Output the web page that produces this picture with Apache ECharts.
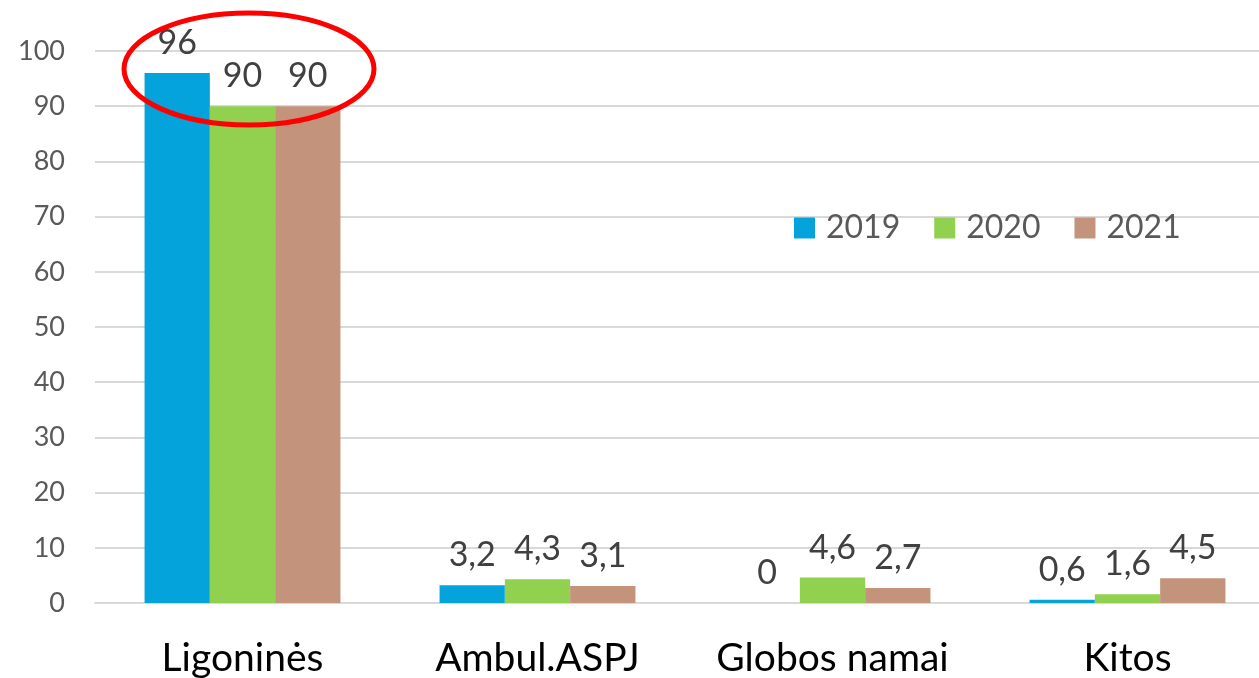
<!DOCTYPE html>
<html lang="lt">
<head>
    <meta charset="UTF-8">
    <title>Chart</title>
    <script src="https://cdn.jsdelivr.net/npm/echarts@6.0.0/dist/echarts.min.js"></script>
    <style>
        html, body { margin: 0; padding: 0; background: #fff; }
        #chart { width: 1259px; height: 678px; }
    </style>
</head>
<body>
<div id="chart"></div>
<script>
    var categories = ['Ligoninės', 'Ambul.ASPJ', 'Globos namai', 'Kitos'];
    var years = ['2019', '2020', '2021'];
    var values2019 = [96, 3.2, 0, 0.6];
    var values2020 = [90, 4.3, 4.6, 1.6];
    var values2021 = [90, 3.1, 2.7, 4.5];
    var colors = ['#05a3dc', '#92d050', '#c3937c'];

    var font = 'Lato, "Open Sans", sans-serif';

    function makeSeries(name, data, color) {
        return {
            name: name,
            type: 'bar',
            data: data,
            barGap: '0%',
            barCategoryGap: '33.6%',
            itemStyle: { color: color },
            label: {
                show: true,
                position: 'top',
                distance: 13,
                fontFamily: font,
                fontSize: 34,
                color: '#404040',
                formatter: function (p) {
                    return String(p.value).replace('.', ',');
                }
            }
        };
    }

    var chart = echarts.init(document.getElementById('chart'));
    var option = {
        animation: false,
        textStyle: { fontFamily: font },
        legend: {
            data: years,
            left: 794,
            top: 212,
            padding: 0,
            itemWidth: 21,
            itemHeight: 21,
            itemGap: 34,
            icon: 'rect',
            textStyle: { fontFamily: font, fontSize: 32, color: '#595959', padding: [0, 0, 0, 6] }
        },
        grid: {
            left: 95,
            width: 1180,
            top: 51,
            bottom: 75,
            containLabel: false,
            outerBoundsMode: 'none'
        },
        xAxis: {
            type: 'category',
            data: categories,
            axisLine: { lineStyle: { color: '#d9d9d9', width: 2 } },
            axisTick: { show: false },
            axisLabel: {
                interval: 0,
                hideOverlap: false,
                fontFamily: font,
                fontSize: 39,
                color: '#000',
                margin: 36
            }
        },
        yAxis: {
            type: 'value',
            min: 0,
            max: 100,
            interval: 10,
            axisLine: { show: false },
            axisTick: { show: false },
            splitLine: { lineStyle: { color: '#d9d9d9', width: 2 } },
            axisLabel: {
                fontFamily: font,
                fontSize: 27,
                color: '#595959',
                margin: 30
            }
        },
        series: [
            makeSeries(years[0], values2019, colors[0]),
            makeSeries(years[1], values2020, colors[1]),
            makeSeries(years[2], values2021, colors[2])
        ],
        graphic: [{
            type: 'ellipse',
            shape: { cx: 249, cy: 69, rx: 125, ry: 56 },
            style: { fill: null, stroke: '#ff0000', lineWidth: 5 },
            z: 100
        }]
    };
    chart.setOption(option);
</script>
</body>
</html>
